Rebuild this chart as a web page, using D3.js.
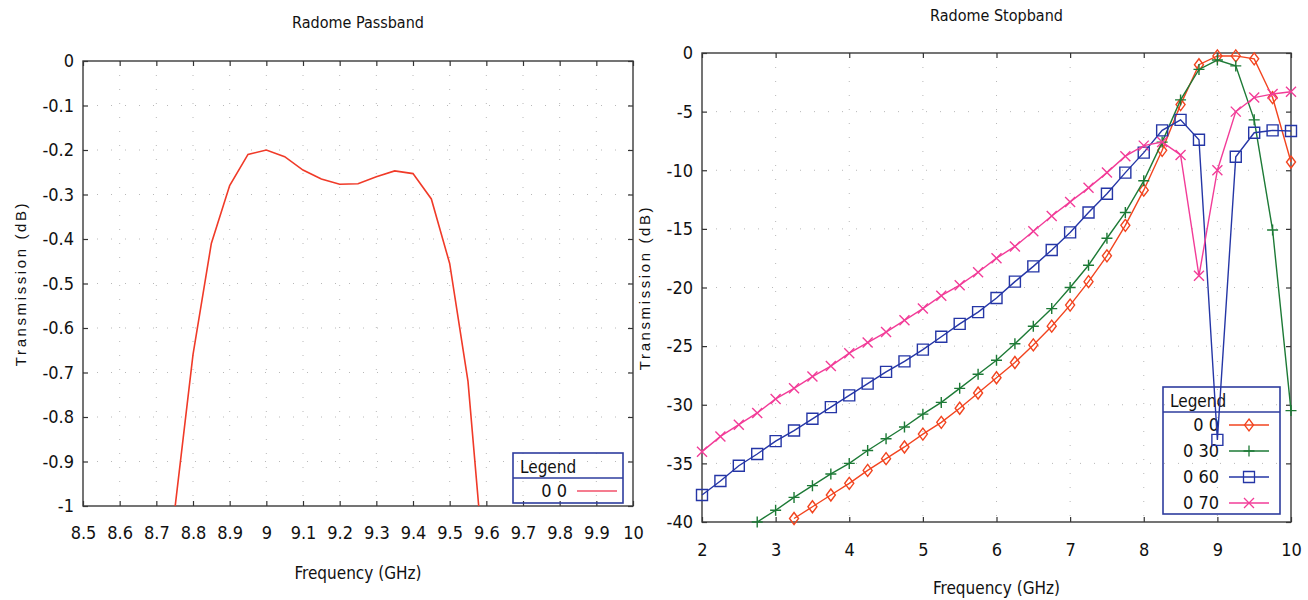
<!DOCTYPE html>
<html>
<head>
<meta charset="utf-8">
<script src="https://cdn.jsdelivr.net/npm/d3@7"></script>
<style>
    body { margin: 0; background: #fff; }
    svg text { font-family: "Liberation Sans Narrow", "Arial Narrow", "DejaVu Sans Condensed", sans-serif; fill: #111; }
    .ytitle { font-family: "Liberation Sans", Arial, sans-serif !important; }
</style>
</head>
<body>
<svg id="chart" width="1308" height="600"></svg>
<script>
// ════════════════════════════════════════════════════════════════
//   Radome Passband / Radome Stopband
// ════════════════════════════════════════════════════════════════

// ── Passband (left panel) ───────────────────────────────────────
const PASS_FREQ = [8.75, 8.8, 8.85, 8.9, 8.95, 9.0, 9.05, 9.1, 9.15,
                   9.2, 9.25, 9.3, 9.35, 9.4, 9.45, 9.5, 9.55, 9.6];
const PASS_DB = [-1.01, -0.66, -0.41, -0.28, -0.21, -0.20, -0.215, -0.245, -0.265,
                 -0.277, -0.276, -0.26, -0.247, -0.253, -0.31, -0.455, -0.72, -1.2];
const PASS_X_TICKS = [8.5, 8.6, 8.7, 8.8, 8.9, 9, 9.1, 9.2, 9.3, 9.4, 9.5, 9.6, 9.7, 9.8, 9.9, 10];
const PASS_Y_TICKS = [0, -0.1, -0.2, -0.3, -0.4, -0.5, -0.6, -0.7, -0.8, -0.9, -1];
const PASS_NAME = "0 0";

// ── Stopband (right panel) ──────────────────────────────────────
const STOP_FREQ = [2, 2.25, 2.5, 2.75, 3, 3.25, 3.5, 3.75, 4, 4.25, 4.5, 4.75,
                   5, 5.25, 5.5, 5.75, 6, 6.25, 6.5, 6.75, 7, 7.25, 7.5, 7.75,
                   8, 8.25, 8.5, 8.75, 9, 9.25, 9.5, 9.75, 10];
const STOP_0_0 = [null, null, null, null, null, -39.7, -38.7, -37.7, -36.7, -35.6, -34.6, -33.6,
                  -32.5, -31.5, -30.3, -29.0, -27.7, -26.4, -24.9, -23.3, -21.5, -19.5, -17.3, -14.7,
                  -11.7, -8.3, -4.4, -1.0, -0.25, -0.25, -0.5, -3.8, -9.3];
const STOP_0_30 = [null, null, null, -40.0, -39.0, -37.9, -36.9, -35.9, -35.0, -33.9, -32.9, -31.9,
                   -30.8, -29.8, -28.6, -27.4, -26.2, -24.8, -23.3, -21.8, -20.0, -18.1, -15.8, -13.6,
                   -10.9, -7.6, -4.0, -1.4, -0.6, -1.1, -5.7, -15.1, -30.5];
const STOP_0_60 = [-37.7, -36.5, -35.2, -34.2, -33.1, -32.2, -31.2, -30.2, -29.2, -28.2, -27.2, -26.3,
                   -25.3, -24.2, -23.1, -22.1, -20.9, -19.5, -18.2, -16.8, -15.3, -13.6, -12.0, -10.2,
                   -8.5, -6.6, -5.7, -7.4, -33.0, -8.85, -6.8, -6.6, -6.65];
const STOP_0_70 = [-34.0, -32.7, -31.7, -30.7, -29.5, -28.6, -27.6, -26.7, -25.6, -24.7, -23.8, -22.8,
                   -21.8, -20.7, -19.8, -18.7, -17.5, -16.5, -15.2, -13.9, -12.7, -11.5, -10.2, -8.8,
                   -7.9, -7.6, -8.7, -19.0, -10.0, -5.0, -3.8, -3.5, -3.3];
const STOP_X_TICKS = [2, 3, 4, 5, 6, 7, 8, 9, 10];
const STOP_Y_TICKS = [0, -5, -10, -15, -20, -25, -30, -35, -40];
const STOP_NAMES = ["0 0", "0 30", "0 60", "0 70"];
const STOP_VALUES = [STOP_0_0, STOP_0_30, STOP_0_60, STOP_0_70];

const COLORS = ["#f2441f", "#1d7a36", "#2536a6", "#f23c98"];
const PASS_COLOR = "#f03a28";

// marker outlines, centred on 0,0
const MARKERS = {
    diamond: "M0,-6L4.5,0L0,6L-4.5,0Z",
    plus: "M-5.5,0H5.5M0,-5.5V5.5",
    square: "M-5.5,-5.5H5.5V5.5H-5.5Z",
    cross: "M-5,-5L5,5M5,-5L-5,5"
};
const SERIES_MARKERS = ["diamond", "plus", "square", "cross"];

const svg = d3.select("#chart");

// ── Generic panel: frame, grid, inward ticks, labels ────────────
function drawPanel(p) {
    const x = d3.scaleLinear().domain(p.xDomain).range([p.left, p.right]);
    const y = d3.scaleLinear().domain(p.yDomain).range([p.top, p.bottom]);
    const g = svg.append("g");

    // dotted grid
    g.append("g").selectAll("line").data(p.xTicks.slice(1, -1)).join("line")
        .attr("x1", d => x(d)).attr("x2", d => x(d))
        .attr("y1", p.top).attr("y2", p.bottom)
        .attr("stroke", "#b8b8b8").attr("stroke-width", 1).attr("stroke-dasharray", "1,13");
    g.append("g").selectAll("line").data(p.yTicks.slice(1, -1)).join("line")
        .attr("y1", d => y(d)).attr("y2", d => y(d))
        .attr("x1", p.left).attr("x2", p.right)
        .attr("stroke", "#b8b8b8").attr("stroke-width", 1).attr("stroke-dasharray", "1,13");

    const fmt = d => String(d);
    const axes = [
        [d3.axisBottom(x).tickValues(p.xTicks).tickFormat(fmt).tickPadding(p.xPad), `translate(0,${p.bottom})`],
        [d3.axisTop(x).tickValues(p.xTicks).tickFormat(""), `translate(0,${p.top})`],
        [d3.axisLeft(y).tickValues(p.yTicks).tickFormat(fmt).tickPadding(9), `translate(${p.left},0)`],
        [d3.axisRight(y).tickValues(p.yTicks).tickFormat(""), `translate(${p.right},0)`]
    ];
    axes.forEach(function ([ax, tr]) {
        const a = g.append("g").attr("transform", tr).call(ax.tickSize(-5));
        a.select(".domain").remove();
        a.selectAll("line").attr("stroke", "#333").attr("stroke-width", 1.2);
        a.selectAll("text").style("font-size", "18px").attr("fill", "#111");
    });

    g.append("rect")
        .attr("x", p.left).attr("y", p.top)
        .attr("width", p.right - p.left).attr("height", p.bottom - p.top)
        .attr("fill", "none").attr("stroke", "#3a3a3a").attr("stroke-width", 1.4);

    const cx = (p.left + p.right) / 2;
    g.append("text").attr("x", cx).attr("y", p.titleY)
        .attr("text-anchor", "middle").style("font-size", "16px").text(p.title);
    g.append("text").attr("x", cx).attr("y", p.xTitleY)
        .attr("text-anchor", "middle").style("font-size", "17px").text("Frequency (GHz)");
    g.append("text").attr("class", "ytitle")
        .attr("transform", `translate(${p.yTitleX},${(p.top + p.bottom) / 2}) rotate(-90)`)
        .attr("text-anchor", "middle").attr("dy", "0.35em")
        .style("font-size", "15px").style("letter-spacing", "2.6px")
        .text("Transmission (dB)");

    return { g, x, y };
}

// legend box with a header row
function drawLegend(g, box, names, colors, markers) {
    const lg = g.append("g");
    const rowH = 26;
    const h = 26 + names.length * rowH - (names.length > 1 ? 3 : 2);
    lg.append("rect").attr("x", box.x).attr("y", box.y)
        .attr("width", box.w).attr("height", h)
        .attr("fill", "none").attr("stroke", "#2e3c9e").attr("stroke-width", 1.6);
    lg.append("line").attr("x1", box.x).attr("x2", box.x + box.w)
        .attr("y1", box.y + 25).attr("y2", box.y + 25)
        .attr("stroke", "#2e3c9e").attr("stroke-width", 1.6);
    lg.append("text").attr("x", box.x + 7).attr("y", box.y + 20)
        .style("font-size", "17px").text("Legend");

    names.forEach(function (name, i) {
        const cy = box.y + 25 + rowH / 2 + i * rowH;
        lg.append("text").attr("x", box.x + box.textRight).attr("y", cy).attr("dy", "0.36em")
            .attr("text-anchor", "end").style("font-size", "18px").text(name);
        lg.append("line")
            .attr("x1", box.x + box.textRight + 10).attr("x2", box.x + box.textRight + 50)
            .attr("y1", cy).attr("y2", cy)
            .attr("stroke", colors[i]).attr("stroke-width", 1.3);
        if (markers) {
            lg.append("path").attr("d", MARKERS[markers[i]])
                .attr("transform", `translate(${box.x + box.textRight + 30},${cy})`)
                .attr("fill", "none").attr("stroke", colors[i]).attr("stroke-width", 1.3);
        }
    });
}

// ── Left: passband ──────────────────────────────────────────────
const pass = drawPanel({
    left: 83, right: 633, top: 61, bottom: 506,
    xDomain: [8.5, 10], yDomain: [0, -1],
    xTicks: PASS_X_TICKS, yTicks: PASS_Y_TICKS, xPad: 20,
    title: "Radome Passband", titleY: 28, xTitleY: 579, yTitleX: 21
});

svg.append("defs").append("clipPath").attr("id", "passClip")
    .append("rect").attr("x", 83).attr("y", 61).attr("width", 550).attr("height", 445);

pass.g.append("path")
    .datum(PASS_FREQ.map((f, i) => [f, PASS_DB[i]]))
    .attr("clip-path", "url(#passClip)")
    .attr("d", d3.line().x(d => pass.x(d[0])).y(d => pass.y(d[1])))
    .attr("fill", "none").attr("stroke", PASS_COLOR).attr("stroke-width", 1.6);

drawLegend(pass.g, { x: 513, y: 453, w: 110, textRight: 54 }, [PASS_NAME], ["#f2506a"], null);

// ── Right: stopband ─────────────────────────────────────────────
const stop = drawPanel({
    left: 702, right: 1291, top: 53, bottom: 522,
    xDomain: [2, 10], yDomain: [0, -40],
    xTicks: STOP_X_TICKS, yTicks: STOP_Y_TICKS, xPad: 21,
    title: "Radome Stopband", titleY: 21, xTitleY: 594, yTitleX: 645
});

drawLegend(stop.g, { x: 1163, y: 387, w: 117, textRight: 56 }, STOP_NAMES, COLORS, SERIES_MARKERS);

STOP_VALUES.forEach(function (vals, s) {
    const pts = STOP_FREQ.map((f, i) => [f, vals[i]]).filter(d => d[1] !== null);
    const sg = stop.g.append("g");
    sg.append("path").datum(pts)
        .attr("d", d3.line().x(d => stop.x(d[0])).y(d => stop.y(d[1])))
        .attr("fill", "none").attr("stroke", COLORS[s]).attr("stroke-width", 1.4);
    sg.selectAll("path.m").data(pts).join("path").attr("class", "m")
        .attr("d", MARKERS[SERIES_MARKERS[s]])
        .attr("transform", d => `translate(${stop.x(d[0])},${stop.y(d[1])})`)
        .attr("fill", "none").attr("stroke", COLORS[s]).attr("stroke-width", 1.4);
});
</script>
</body>
</html>
